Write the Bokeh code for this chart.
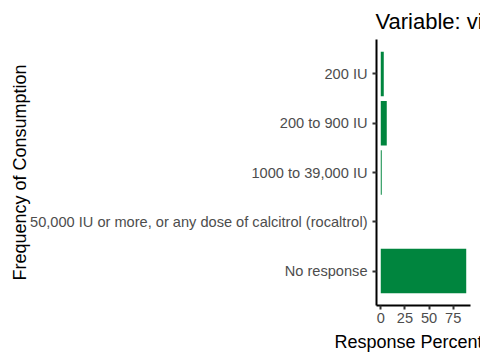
from bokeh.plotting import figure
from bokeh.models import FactorRange, Range1d, ColumnDataSource
from bokeh.embed import file_html
from bokeh.resources import INLINE

categories = ["200 IU", "200 to 900 IU", "1000 to 39,000 IU",
              "50,000 IU or more, or any dose of calcitrol (rocaltrol)", "No response"]
percents = [3.1, 6.2, 1.0, 0.0, 88.5]
x_ticks = [0, 25, 50, 75]
title_text = "Variable: vitamin D"
x_title = "Response Percentage"
y_title = "Frequency of Consumption"

FONT = "Liberation Sans"
xmax = max(percents)
src = ColumnDataSource(dict(cat=categories, pct=percents))

p = figure(width=480, height=360, output_backend="svg", toolbar_location=None,
           y_range=FactorRange(factors=categories[::-1], range_padding=0.2,
                               range_padding_units="absolute"),
           x_range=Range1d(-0.05 * xmax, 1.05 * xmax),
           min_border_left=376, min_border_right=10, min_border_top=39,
           min_border_bottom=55, title=title_text)

p.hbar(y="cat", right="pct", left=0, height=0.9, source=src,
       fill_color="#00853E", line_color=None)

p.outline_line_color = None
p.xgrid.grid_line_color = None
p.ygrid.grid_line_color = None
p.background_fill_color = "white"
p.border_fill_color = "white"

p.title.text_font = FONT
p.title.text_font_size = "22px"
p.title.text_font_style = "normal"
p.title.text_color = "black"
p.title.align = "left"
p.title.offset = -1
p.title.standoff = 12

for ax in (p.xaxis[0], p.yaxis[0]):
    ax.axis_line_width = 2
    ax.axis_line_color = "black"
    ax.major_tick_line_width = 2
    ax.major_tick_line_color = "#333333"
    ax.major_tick_out = 4
    ax.major_tick_in = 0
    ax.minor_tick_line_color = None
    ax.major_label_text_font = FONT
    ax.major_label_text_font_size = "14.6px"
    ax.major_label_text_color = "#4D4D4D"
    ax.axis_label_text_font = FONT
    ax.axis_label_text_font_size = "18px"
    ax.axis_label_text_font_style = "normal"
    ax.axis_label_text_color = "black"

p.xaxis.ticker = x_ticks
p.xaxis.axis_label = x_title
p.xaxis.major_label_standoff = 3
p.xaxis.axis_label_standoff = 6
p.yaxis.axis_label = y_title
p.yaxis.major_label_standoff = 5
p.yaxis.axis_label_standoff = -3

open("out.html", "w").write(file_html(p, INLINE))
